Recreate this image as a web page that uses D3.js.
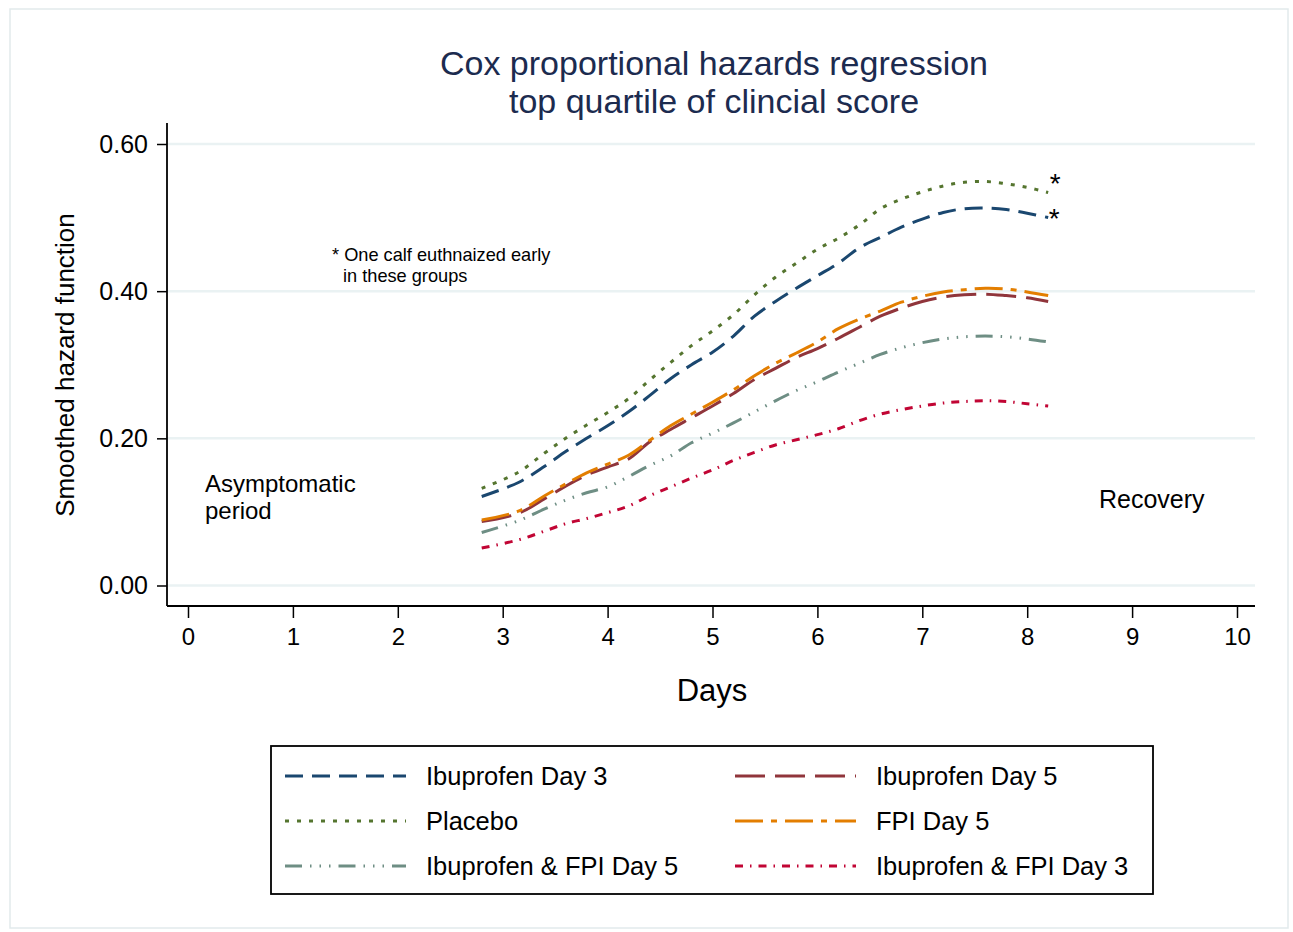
<!DOCTYPE html>
<html>
<head>
<meta charset="utf-8">
<script src="https://cdn.jsdelivr.net/npm/d3@7"></script>
<style>
  html, body { margin: 0; padding: 0; background: #ffffff; }
  svg { display: block; }
  text { font-family: "Liberation Sans", Arial, Helvetica, sans-serif; fill: #000; }
</style>
</head>
<body>
<svg id="chart" width="1293" height="932"></svg>
<script>
// ---------------- data ----------------
const days = [2.8, 3.15, 3.4, 3.6, 3.8, 4.0, 4.2, 4.4, 4.6, 4.8, 5.0, 5.2, 5.4, 5.6, 5.8, 6.0, 6.2, 6.4, 6.6, 6.8, 7.0, 7.2, 7.4, 7.6, 7.8, 8.0, 8.2];

const ibuprofenDay3 = [0.121, 0.140, 0.162, 0.182, 0.200, 0.217, 0.236, 0.258, 0.281, 0.300, 0.317, 0.339, 0.366, 0.386, 0.404, 0.421, 0.438, 0.459, 0.473, 0.487, 0.498, 0.507, 0.512, 0.513, 0.511, 0.506, 0.500];
const placebo       = [0.132, 0.154, 0.180, 0.200, 0.218, 0.235, 0.254, 0.279, 0.303, 0.326, 0.346, 0.368, 0.395, 0.419, 0.438, 0.457, 0.472, 0.490, 0.512, 0.525, 0.535, 0.543, 0.548, 0.549, 0.546, 0.541, 0.534];
const ibuFpiDay5    = [0.072, 0.088, 0.104, 0.116, 0.126, 0.134, 0.148, 0.163, 0.176, 0.194, 0.207, 0.221, 0.236, 0.251, 0.265, 0.277, 0.290, 0.302, 0.314, 0.323, 0.330, 0.335, 0.338, 0.339, 0.338, 0.335, 0.331];
const ibuprofenDay5 = [0.087, 0.098, 0.118, 0.135, 0.150, 0.161, 0.172, 0.195, 0.212, 0.228, 0.244, 0.261, 0.280, 0.295, 0.310, 0.322, 0.336, 0.351, 0.366, 0.377, 0.386, 0.392, 0.395, 0.396, 0.394, 0.391, 0.386];
const fpiDay5       = [0.089, 0.101, 0.122, 0.138, 0.153, 0.165, 0.177, 0.197, 0.217, 0.233, 0.249, 0.266, 0.285, 0.302, 0.316, 0.331, 0.349, 0.362, 0.373, 0.385, 0.393, 0.399, 0.402, 0.404, 0.403, 0.399, 0.394];
const ibuFpiDay3    = [0.051, 0.062, 0.074, 0.084, 0.091, 0.099, 0.108, 0.122, 0.134, 0.146, 0.157, 0.170, 0.181, 0.191, 0.198, 0.205, 0.213, 0.224, 0.233, 0.239, 0.244, 0.248, 0.250, 0.251, 0.250, 0.247, 0.244];

const seriesNames = ["Ibuprofen Day 3", "Placebo", "Ibuprofen & FPI Day 5", "Ibuprofen Day 5", "FPI Day 5", "Ibuprofen & FPI Day 3"];
const seriesValues = [ibuprofenDay3, placebo, ibuFpiDay5, ibuprofenDay5, fpiDay5, ibuFpiDay3];

const xTicks = [0, 1, 2, 3, 4, 5, 6, 7, 8, 9, 10];
const yTicks = [0, 0.2, 0.4, 0.6];

const titleLines = ["Cox proportional hazards regression", "top quartile of clincial score"];
const noteLines = ["* One calf euthnaized early", "in these groups"];
const leftLabelLines = ["Asymptomatic", "period"];

// ---------------- styles ----------------
const seriesColors = ["#1a476f", "#55752f", "#6e8e84", "#90353b", "#e37e00", "#c10534"];
const seriesDash = ["18,9", "4,8", "17,8,1.5,8,1.5,8,1.5,8", "30,10", "28,8,6,8", "8,7,1.5,7"];

// ---------------- layout ----------------
const svg = d3.select("#chart");
const W = 1293, H = 932;

svg.append("rect").attr("x", 0).attr("y", 0).attr("width", W).attr("height", H).attr("fill", "#fff");
svg.append("rect").attr("x", 10).attr("y", 9).attr("width", 1278).attr("height", 919)
  .attr("fill", "none").attr("stroke", "#e2eaec").attr("stroke-width", 1.5);

const plotLeft = 167, plotRight = 1255, plotTop = 123, plotBottom = 606;

const x = d3.scaleLinear().domain([0, 10]).range([188, 1237]);
const y = d3.scaleLinear().domain([0, 0.6]).range([585.5, 144]);

// gridlines
svg.append("g").selectAll("line").data(yTicks).join("line")
  .attr("x1", plotLeft).attr("x2", plotRight)
  .attr("y1", d => y(d)).attr("y2", d => y(d))
  .attr("stroke", "#eaf2f3").attr("stroke-width", 2.5);

// y axis
const yAxis = d3.axisLeft(y).tickValues(yTicks).tickFormat(d3.format(".2f")).tickSize(10).tickPadding(9);
const gy = svg.append("g").attr("transform", `translate(${plotLeft},0)`).call(yAxis);
gy.select(".domain").remove();
gy.selectAll(".tick line").attr("stroke", "#000").attr("stroke-width", 1.5);
gy.selectAll(".tick text").attr("font-size", 25).attr("font-family", "'Liberation Sans', Arial, sans-serif").attr("fill", "#000");
svg.append("line").attr("x1", plotLeft).attr("x2", plotLeft).attr("y1", plotTop).attr("y2", plotBottom)
  .attr("stroke", "#000").attr("stroke-width", 1.8);

// x axis
const xAxis = d3.axisBottom(x).tickValues(xTicks).tickFormat(d3.format("d")).tickSize(12).tickPadding(10);
const gx = svg.append("g").attr("transform", `translate(0,${plotBottom})`).call(xAxis);
gx.select(".domain").remove();
gx.selectAll(".tick line").attr("stroke", "#000").attr("stroke-width", 1.5);
gx.selectAll(".tick text").attr("font-size", 24).attr("font-family", "'Liberation Sans', Arial, sans-serif").attr("fill", "#000");
svg.append("line").attr("x1", plotLeft).attr("x2", plotRight).attr("y1", plotBottom).attr("y2", plotBottom)
  .attr("stroke", "#000").attr("stroke-width", 1.8);

// axis titles
svg.append("text").attr("x", 712).attr("y", 701).attr("text-anchor", "middle")
  .attr("font-size", 31).text("Days");
svg.append("text").attr("transform", "translate(74,365) rotate(-90)").attr("text-anchor", "middle")
  .attr("font-size", 26).text("Smoothed hazard function");

// title
svg.append("g").selectAll("text").data(titleLines).join("text")
  .attr("x", 714).attr("y", (d, i) => 75 + i * 38)
  .attr("text-anchor", "middle").attr("font-size", 34).style("fill", "#1c2b4f")
  .text(d => d);

// lines
const line = d3.line().x(d => x(d[0])).y(d => y(d[1])).curve(d3.curveCatmullRom.alpha(0.5));
seriesValues.forEach((vals, i) => {
  svg.append("path")
    .datum(days.map((d, j) => [d, vals[j]]))
    .attr("d", line)
    .attr("fill", "none")
    .attr("stroke", seriesColors[i])
    .attr("stroke-width", 3)
    .attr("stroke-dasharray", seriesDash[i]);
});

// asterisks next to curve ends (Placebo, Ibuprofen Day 3)
const lastIdx = days.length - 1;
svg.append("text").attr("x", x(days[lastIdx]) + 7).attr("y", y(placebo[lastIdx]) + 0)
  .attr("text-anchor", "middle").attr("font-size", 28).text("*");
svg.append("text").attr("x", x(days[lastIdx]) + 6).attr("y", y(ibuprofenDay3[lastIdx]) + 10)
  .attr("text-anchor", "middle").attr("font-size", 28).text("*");

// annotations
svg.append("g").selectAll("text").data(noteLines).join("text")
  .attr("x", (d, i) => i === 0 ? 332 : 343).attr("y", (d, i) => 261 + i * 20.5)
  .attr("font-size", 18.2).text(d => d);
svg.append("g").selectAll("text").data(leftLabelLines).join("text")
  .attr("x", 205).attr("y", (d, i) => 492 + i * 27)
  .attr("font-size", 24).text(d => d);
svg.append("text").attr("x", 1099).attr("y", 508).attr("font-size", 25).text("Recovery");

// legend
svg.append("rect").attr("x", 271).attr("y", 746).attr("width", 882).attr("height", 148)
  .attr("fill", "#fff").attr("stroke", "#000").attr("stroke-width", 1.8);
const legItems = seriesNames.map((name, i) => ({ name, i, col: i < 3 ? 0 : 1, row: i % 3 }));
const lg = svg.append("g").selectAll("g").data(legItems).join("g")
  .attr("transform", d => `translate(${d.col === 0 ? 285 : 735},${776 + d.row * 45})`);
lg.append("line").attr("x1", 0).attr("x2", 121).attr("y1", 0).attr("y2", 0)
  .attr("stroke", d => seriesColors[d.i]).attr("stroke-width", 3)
  .attr("stroke-dasharray", d => seriesDash[d.i]);
lg.append("text").attr("x", 141).attr("y", 9).attr("font-size", 25.5).text(d => d.name);
</script>
</body>
</html>
